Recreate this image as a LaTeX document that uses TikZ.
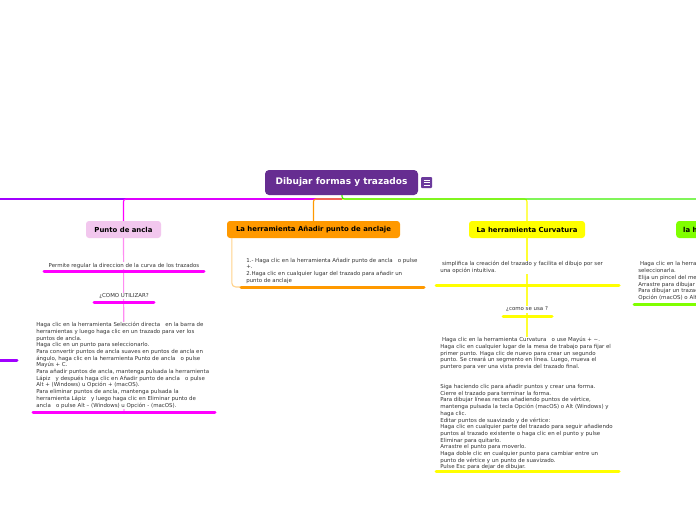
\documentclass[tikz,border=0pt]{standalone}
\usepackage{fontspec}
\setmainfont{DejaVu Sans}
\definecolor{cpurple}{HTML}{662D91}
\definecolor{cicon}{HTML}{6B3A9C}
\definecolor{cviolet}{HTML}{A100FF}
\definecolor{cmag}{HTML}{FF00FF}
\definecolor{cpinkfill}{HTML}{F2C7EE}
\definecolor{cpinkline}{HTML}{FF8CF2}
\definecolor{corange}{HTML}{FF9900}
\definecolor{corangel}{HTML}{FFD28A}
\definecolor{cyellow}{HTML}{FFFF00}
\definecolor{cyellowl}{HTML}{FFFF33}
\definecolor{cgreenline}{HTML}{3CF000}
\definecolor{cgreen}{HTML}{80FF00}
\definecolor{ctext}{HTML}{333333}
\tikzset{
  topic/.style={rounded corners=3, minimum height=17, inner sep=0, font=\bfseries\fontsize{6.9}{8}\selectfont, text=black},
  txt/.style={font=\fontsize{5.45}{6.7}\selectfont, text=ctext, align=left, fill=white, inner sep=0.6, anchor=north west},
  ctxt/.style={font=\fontsize{5.45}{6.7}\selectfont, text=ctext, fill=white, inner sep=0.6},
  uline/.style={line width=3, line cap=round},
  conn/.style={line width=1.1, rounded corners=2.5}
}
\begin{document}
\begin{tikzpicture}[x=1pt,y=-1pt]
\useasboundingbox (0,0) rectangle (696,520);
\clip (0,0) rectangle (696,520);
\fill[white] (0,0) rectangle (696,520);

% central topic
\node[fill=cpurple, rounded corners=4, minimum width=153, minimum height=25, inner sep=0,
      text=white, font=\bfseries\fontsize{9}{10.8}\selectfont] (main) at (341.5,182.5) {Dibujar formas y trazados};
\node[fill=cicon, rounded corners=1, minimum width=11, minimum height=11, inner sep=0] (icon) at (426.5,182.5) {};
\draw[white, line width=0.8] ([xshift=-3,yshift=-2.5]icon.center) -- ([xshift=3,yshift=-2.5]icon.center)
  ([xshift=-3]icon.center) -- ([xshift=3]icon.center)
  ([xshift=-3,yshift=2.5]icon.center) -- ([xshift=3,yshift=2.5]icon.center);

\coordinate (hub) at (342,199);
\coordinate (offleft) at (-10,199);
\coordinate (offright) at (710,199);

% topics
\node[topic, fill=cpinkfill, minimum width=75] (punto) at (123.5,229.5) {Punto de ancla};
\node[topic, fill=corange, minimum width=173] (anadir) at (313.5,229.5) {La herramienta Añadir punto de anclaje};
\node[topic, fill=cyellow, minimum width=116] (curva) at (527,229.5) {La herramienta Curvatura};
\node[topic, fill=cgreen, anchor=west, inner xsep=7, minimum width=60] (pincel) at (676,229.5) {la herramienta Pincel};

% main connectors
\draw[cviolet, conn] (hub) -- (offleft);
\draw[cmag, conn] (hub) -| (punto.north);
\draw[cyellow, conn] (hub) -| (curva.north);
\draw[corange, conn] (hub) -| (anadir.north);
\draw[cgreenline, conn] (main.south -| hub) -- (hub) -- (offright);

% ---------- Punto de ancla column
\coordinate (pbot) at (124,412);
\draw[cpinkline, line width=1.1] (punto.south) -- (pbot);
\node[ctxt] (p1) at (124,265.5) {Permite regular la direccion de la curva de los trazados};
\coordinate (p1a) at (44,271); \coordinate (p1b) at (204,271);
\draw[cmag, uline] (p1a) -- (p1b);
\node[ctxt] (p2) at (124,296) {¿COMO UTILIZAR?};
\coordinate (p2a) at (94,302); \coordinate (p2b) at (154,302);
\draw[cmag, uline] (p2a) -- (p2b);
\node[txt] (p3) at (35.5,321.5) {Haga clic en la herramienta Selección directa \ \ en la barra de\\
herramientas y luego haga clic en un trazado para ver los\\
puntos de ancla.\\
Haga clic en un punto para seleccionarlo.\\
Para convertir puntos de ancla suaves en puntos de ancla en\\
ángulo, haga clic en la herramienta Punto de ancla \ \ o pulse\\
Mayús + C.\\
Para añadir puntos de ancla, mantenga pulsada la herramienta\\
Lápiz \ \ y después haga clic en Añadir punto de ancla \ \ o pulse\\
Alt + (Windows) u Opción + (macOS).\\
Para eliminar puntos de ancla, mantenga pulsada la\\
herramienta Lápiz \ \ y luego haga clic en Eliminar punto de\\
ancla \ \ o pulse Alt – (Windows) u Opción - (macOS).};
\coordinate (p3a) at (33,412); \coordinate (p3b) at (215,412);
\draw[cmag, uline] (p3a) -- (p3b);

% off-screen violet underline
\coordinate (v1a) at (-5,360); \coordinate (v1b) at (17,360);
\draw[cviolet, uline] (v1a) -- (v1b);

% ---------- Añadir column
\coordinate (a1a) at (241,287); \coordinate (a1b) at (424,287);
\draw[corangel, line width=1.1, rounded corners=4] ([xshift=5]anadir.south west) |- (a1a);
\node[txt] (a1) at (245.5,257) {1.- Haga clic en la herramienta Añadir punto de ancla \ \ o pulse\\
+.\\
2.Haga clic en cualquier lugar del trazado para añadir un\\
punto de anclaje};
\draw[corange, uline] (a1a) -- (a1b);

% ---------- Curvatura column
\coordinate (cbot) at (527,471);
\draw[cyellowl, line width=1.1] (curva.south) -- (cbot);
\node[txt] (c1) at (439.5,260.5) {\ simplifica la creación del trazado y facilita el dibujo por ser\\
una opción intuitiva.};
\coordinate (c1a) at (436,285); \coordinate (c1b) at (619,285);
\draw[cyellow, uline] (c1a) -- (c1b);
\node[ctxt] (c2) at (527,309.5) {¿como se usa ?};
\coordinate (c2a) at (503,316); \coordinate (c2b) at (552,316);
\draw[cyellow, uline] (c2a) -- (c2b);
\node[txt] (c3) at (439.5,336.5) {\ Haga clic en la herramienta Curvatura \ \ o use Mayús + \textasciitilde.\\
Haga clic en cualquier lugar de la mesa de trabajo para fijar el\\
primer punto. Haga clic de nuevo para crear un segundo\\
punto. Se creará un segmento en línea. Luego, mueva el\\
puntero para ver una vista previa del trazado final.\\
\\
\\
Siga haciendo clic para añadir puntos y crear una forma.\\
Cierre el trazado para terminar la forma.\\
Para dibujar líneas rectas añadiendo puntos de vértice,\\
mantenga pulsada la tecla Opción (macOS) o Alt (Windows) y\\
haga clic.\\
Editar puntos de suavizado y de vértice:\\
Haga clic en cualquier parte del trazado para seguir añadiendo\\
puntos al trazado existente o haga clic en el punto y pulse\\
Eliminar para quitarlo.\\
Arrastre el punto para moverlo.\\
Haga doble clic en cualquier punto para cambiar entre un\\
punto de vértice y un punto de suavizado.\\
Pulse Esc para dejar de dibujar.};
\coordinate (c3a) at (436,471); \coordinate (c3b) at (619,471);
\draw[cyellow, uline] (c3a) -- (c3b);

% ---------- Pincel column (cut off at the edge, as in the reference)
\node[txt] (g1) at (637.5,261) {\ Haga clic en la herramienta Pincel para\\
seleccionarla.\\
Elija un pincel del menú de pinceles.\\
Arrastre para dibujar un trazado.\\
Para dibujar un trazado recto, mantenga pulsada\\
Opción (macOS) o Alt (Windows).};
\coordinate (g1a) at (634,304); \coordinate (g1b) at (710,304);
\draw[cgreen, uline] (g1a) -- (g1b);
\end{tikzpicture}
\end{document}
